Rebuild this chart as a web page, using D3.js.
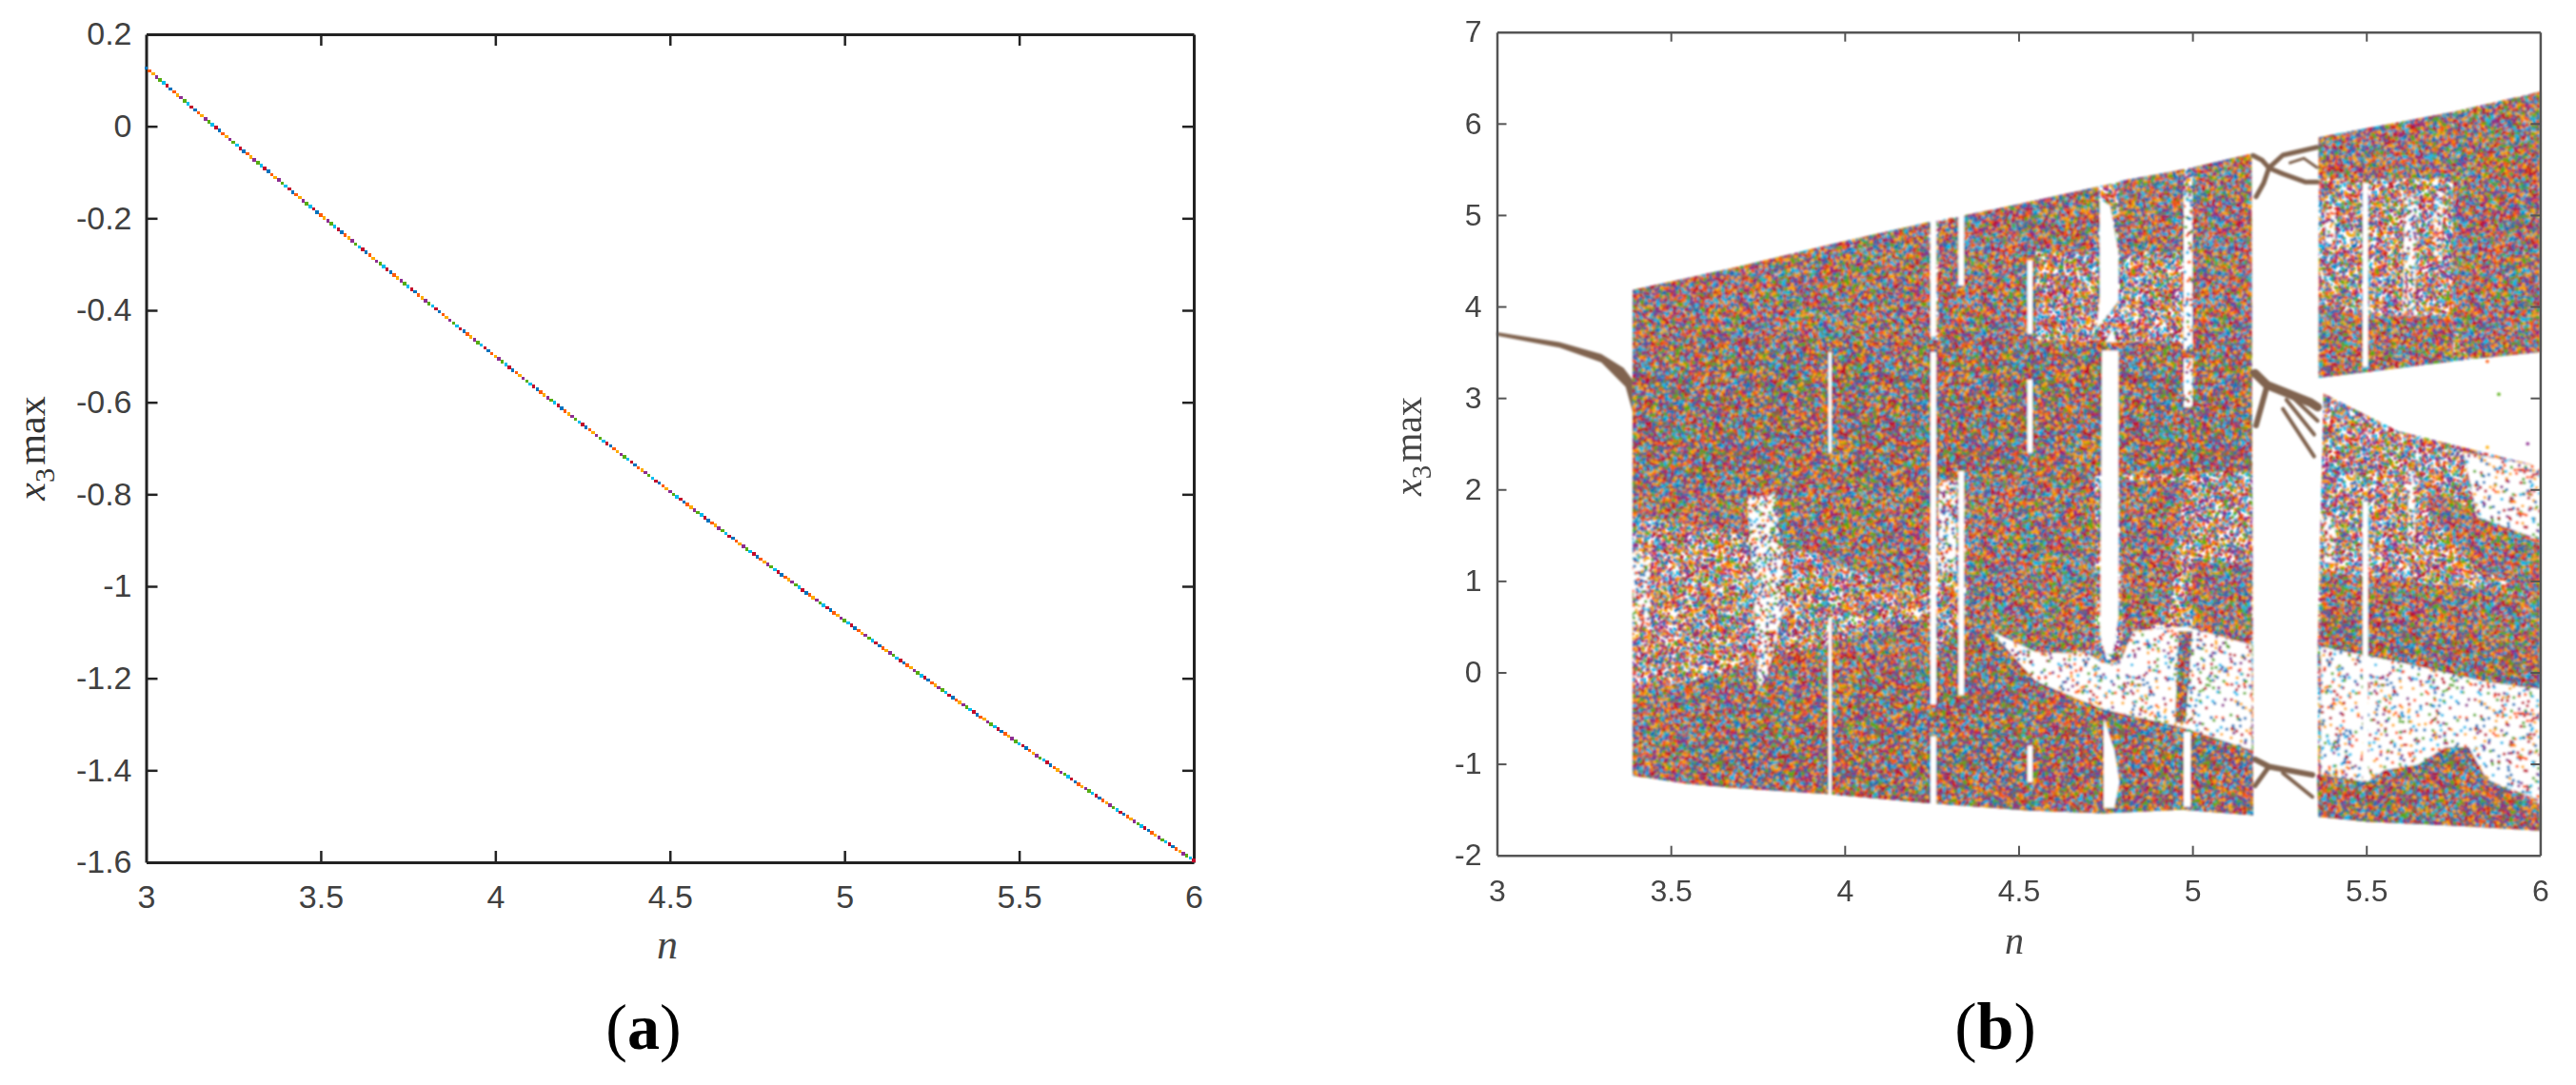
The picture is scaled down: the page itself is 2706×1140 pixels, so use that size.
<!DOCTYPE html>
<html>
<head>
<meta charset="utf-8">
<script src="https://cdn.jsdelivr.net/npm/d3@7/dist/d3.min.js"></script>
<style>
  html, body { margin: 0; padding: 0; background: #fff; }
  svg { display: block; }
</style>
</head>
<body>
<div id="chart"></div>
<script>
'use strict';

// ---- panel (a): one x3max value per n step ----
var nStartA = 3, nStepA = 0.01;
var x3maxA = [
  0.127,0.120,0.114,0.107,0.101,0.094,0.088,0.081,0.075,0.068,
  0.062,0.055,0.049,0.042,0.036,0.029,0.023,0.016,0.010,0.003,
  -0.003,-0.009,-0.016,-0.022,-0.029,-0.035,-0.041,-0.048,-0.054,-0.060,
  -0.067,-0.073,-0.079,-0.086,-0.092,-0.098,-0.105,-0.111,-0.117,-0.124,
  -0.130,-0.136,-0.143,-0.149,-0.155,-0.162,-0.168,-0.174,-0.180,-0.187,
  -0.193,-0.199,-0.205,-0.212,-0.218,-0.224,-0.230,-0.237,-0.243,-0.249,
  -0.256,-0.262,-0.268,-0.274,-0.280,-0.287,-0.293,-0.299,-0.305,-0.311,
  -0.317,-0.323,-0.330,-0.336,-0.342,-0.348,-0.354,-0.360,-0.367,-0.373,
  -0.379,-0.385,-0.391,-0.397,-0.403,-0.409,-0.415,-0.422,-0.428,-0.434,
  -0.440,-0.446,-0.452,-0.458,-0.464,-0.470,-0.476,-0.482,-0.488,-0.494,
  -0.500,-0.506,-0.512,-0.518,-0.524,-0.530,-0.536,-0.542,-0.548,-0.554,
  -0.560,-0.566,-0.572,-0.578,-0.584,-0.590,-0.595,-0.601,-0.607,-0.613,
  -0.619,-0.625,-0.631,-0.637,-0.643,-0.648,-0.654,-0.660,-0.666,-0.672,
  -0.678,-0.684,-0.690,-0.695,-0.701,-0.707,-0.713,-0.719,-0.724,-0.730,
  -0.736,-0.742,-0.748,-0.753,-0.759,-0.765,-0.771,-0.776,-0.782,-0.788,
  -0.794,-0.800,-0.805,-0.811,-0.817,-0.822,-0.828,-0.834,-0.840,-0.845,
  -0.851,-0.857,-0.862,-0.868,-0.874,-0.879,-0.885,-0.891,-0.896,-0.902,
  -0.908,-0.913,-0.919,-0.924,-0.930,-0.936,-0.941,-0.947,-0.952,-0.958,
  -0.964,-0.969,-0.975,-0.980,-0.986,-0.991,-0.997,-1.002,-1.008,-1.014,
  -1.019,-1.025,-1.030,-1.036,-1.041,-1.047,-1.052,-1.058,-1.063,-1.069,
  -1.074,-1.080,-1.085,-1.091,-1.096,-1.102,-1.107,-1.113,-1.118,-1.123,
  -1.129,-1.134,-1.140,-1.145,-1.150,-1.156,-1.161,-1.167,-1.172,-1.177,
  -1.183,-1.188,-1.194,-1.199,-1.204,-1.210,-1.215,-1.220,-1.226,-1.231,
  -1.237,-1.242,-1.247,-1.252,-1.258,-1.263,-1.268,-1.273,-1.279,-1.284,
  -1.289,-1.295,-1.300,-1.305,-1.310,-1.316,-1.321,-1.326,-1.331,-1.337,
  -1.342,-1.347,-1.352,-1.357,-1.363,-1.368,-1.373,-1.378,-1.383,-1.389,
  -1.394,-1.399,-1.404,-1.409,-1.414,-1.419,-1.425,-1.430,-1.435,-1.440,
  -1.445,-1.450,-1.455,-1.460,-1.465,-1.471,-1.476,-1.481,-1.486,-1.491,
  -1.496,-1.501,-1.506,-1.511,-1.516,-1.521,-1.526,-1.531,-1.536,-1.541,
  -1.546,-1.551,-1.556,-1.561,-1.566,-1.571,-1.576,-1.581,-1.586,-1.591,
  -1.596
];
var dotColors = ['#0072bd', '#ff5a0a', '#ffab00', '#8d2d91', '#55ad12', '#00bdee', '#c20a2a'];

var xTicks  = [3, 3.5, 4, 4.5, 5, 5.5, 6];
var yTicksA = [0.2, 0, -0.2, -0.4, -0.6, -0.8, -1, -1.2, -1.4, -1.6];
var yTicksB = [7, 6, 5, 4, 3, 2, 1, 0, -1, -2];

// ---- panel (b): outline of the point cloud, as [n, x3max] ----
// The individual points can not be read, so these regions are filled with a speckle
// texture (see makeSpeckle), the texture is a fill style and carries no values.
var tailRegion = [[3.0,3.72],[3.18,3.61],[3.3,3.48],[3.364,3.33],[3.39,3.2],[3.39,2.85],[3.37,3.12],[3.3,3.39],[3.18,3.55],[3.0,3.68]];

var mediumRegions = [
  [[3.39,4.18],[3.7,4.44],[3.96,4.68],[4.24,4.92],[4.5,5.12],[4.75,5.33],[5.0,5.52],[5.17,5.67],[5.175,-1.56],[4.97,-1.5],[4.745,-1.54],[4.525,-1.51],[4.244,-1.43],[3.95,-1.33],[3.67,-1.26],[3.39,-1.13]],
  [[5.363,5.85],[5.74,6.12],[6,6.35],[6,3.5],[5.7,3.38],[5.363,3.22]],
  [[5.377,3.05],[5.59,2.64],[6,2.25],[6,-1.73],[5.78,-1.68],[5.5,-1.63],[5.363,-1.58],[5.36,0.3]]
];
var thickRegions = [
  [[3.39,4.18],[3.7,4.44],[3.96,4.68],[4.24,4.92],[4.25,3.55],[3.39,3.55]],
  [[4.27,4.93],[4.5,5.12],[4.73,5.31],[4.73,4.6],[4.55,4.6],[4.55,3.55],[4.27,3.55]],
  [[4.79,5.37],[4.975,5.5],[4.975,4.6],[4.79,4.6]],
  [[5.0,5.52],[5.17,5.67],[5.17,3.55],[5.0,3.55]],
  [[3.39,2.1],[4.3,2.2],[4.3,1.5],[3.9,1.3],[3.6,1.6],[3.39,1.7]],
  [[3.9,1.6],[4.24,1.6],[4.24,0.9],[3.95,1.2]],
  [[4.35,2.2],[4.72,2.2],[4.72,1.6],[4.35,1.0]],
  [[4.35,1.0],[4.55,1.6],[4.72,1.6],[4.72,0.25],[4.55,0.2],[4.35,0.6]],
  [[4.79,2.1],[4.98,2.1],[4.93,0.6],[4.85,0.45],[4.8,0.1]],
  [[5.0,1.2],[5.17,1.2],[5.17,0.3],[5.0,0.45]],
  [[3.39,-0.2],[3.55,-0.1],[3.8,0.15],[4.0,0.35],[4.24,0.6],[4.24,0.1],[4.0,-0.1],[3.8,-0.25],[3.55,-0.5],[3.39,-0.5]],
  [[3.39,-0.5],[3.55,-0.5],[3.55,-1.22],[3.39,-1.13]],
  [[5.363,5.85],[5.74,6.12],[5.75,5.4],[5.363,5.4]],
  [[5.75,6.09],[6,6.35],[6,3.5],[5.8,3.43],[5.75,3.8]],
  [[5.363,4.0],[5.5,3.9],[5.75,3.9],[5.75,3.4],[5.363,3.22]],
  [[5.65,1.9],[5.72,1.95],[6,1.39],[6,0.79],[5.8,1.2]],
  [[5.37,1.1],[5.6,1.0],[5.85,0.9],[6,0.79],[6,0.2],[5.85,0.4],[5.55,0.55],[5.37,0.6]]
];
var denseRegions = [
  [[3.39,3.65],[4.0,3.65],[5.17,3.58],[5.17,2.2],[4.3,2.1],[3.39,2.0]]
];
var lightRegions = [
  [[3.72,1.9],[3.8,1.95],[3.83,0.8],[3.78,0],[3.75,-0.2],[3.74,0.8]],
  [[3.39,1.3],[3.44,1.2],[3.44,0.5],[3.39,0.5]],
  [[4.27,2.1],[4.32,2.1],[4.32,1.1],[4.27,1.1]],
  [[5.61,5.2],[5.645,5.2],[5.64,3.9],[5.605,3.9]],
  [[5.695,5.25],[5.72,5.25],[5.715,4.5],[5.695,4.5]],
  [[5.383,5.06],[5.41,5.06],[5.41,4.65],[5.383,4.65]],
  [[5.38,1.7],[5.41,1.7],[5.41,1.2],[5.38,1.2]],
  [[5.62,2.2],[5.64,2.2],[5.64,1.4],[5.62,1.4]]
];
var sparseRegions = [
  [[4.42,0.45],[4.55,0.22],[4.7,0.2],[4.74,0.1],[4.79,0.08],[4.83,0.45],[4.98,0.5],[5.17,0.3],[5.17,-0.85],[4.97,-0.6],[4.74,-0.4],[4.55,-0.1],[4.42,0.28]],
  [[5.37,0.28],[5.6,0.11],[5.84,-0.1],[6,-0.18],[6,-1.4],[5.84,-1.16],[5.795,-0.82],[5.727,-0.82],[5.649,-1.01],[5.552,-1.07],[5.503,-1.2],[5.37,-1.12]],
  [[5.78,2.4],[6,2.25],[6,1.45],[5.82,1.7]],
  [[4.975,5.25],[5.0,5.25],[5.0,3.53],[4.975,3.53]],
  [[4.975,3.43],[5.0,3.43],[5.0,2.9],[4.975,2.9]]
];
var lowerDenseRegions = [
  [[3.55,-0.5],[3.8,-0.25],[4.0,-0.1],[4.24,0.1],[4.35,0.6],[4.42,0.45],[4.55,-0.1],[4.74,-0.4],[4.97,-0.6],[5.17,-0.85],[5.175,-1.56],[4.97,-1.5],[4.745,-1.54],[4.525,-1.51],[4.244,-1.43],[3.95,-1.33],[3.67,-1.26],[3.55,-1.22]],
  [[4.96,0.45],[5.0,0.45],[4.98,-0.55],[4.95,-0.55]],
  [[5.358,-1.12],[5.503,-1.2],[5.552,-1.07],[5.649,-1.01],[5.727,-0.82],[5.795,-0.82],[5.843,-1.16],[6,-1.46],[6,-1.73],[5.78,-1.68],[5.5,-1.63],[5.363,-1.58]],
  [[5.37,0.6],[5.55,0.55],[5.85,0.4],[6,0.2],[6,-0.18],[5.84,-0.1],[5.6,0.11],[5.37,0.28]]
];
var whiteSlots = [
  [[4.247,4.95],[4.263,4.95],[4.263,3.67],[4.247,3.67]],
  [[4.247,3.5],[4.263,3.5],[4.263,-0.35],[4.247,-0.35]],
  [[4.247,-0.7],[4.263,-0.7],[4.263,-1.46],[4.247,-1.46]],
  [[4.327,5.0],[4.343,5.0],[4.343,4.23],[4.327,4.23]],
  [[4.327,2.2],[4.343,2.2],[4.343,-0.25],[4.327,-0.25]],
  [[3.953,3.5],[3.962,3.5],[3.962,2.4],[3.953,2.4]],
  [[3.953,0.6],[3.962,0.6],[3.962,-1.34],[3.953,-1.34]],
  [[4.525,4.5],[4.54,4.5],[4.54,3.7],[4.525,3.7]],
  [[4.525,3.2],[4.54,3.2],[4.54,2.4],[4.525,2.4]],
  [[4.525,-0.8],[4.54,-0.8],[4.54,-1.2],[4.525,-1.2]],
  [[4.734,5.17],[4.763,5.10],[4.787,4.58],[4.787,4.06],[4.725,3.76],[4.734,4.1]],
  [[4.75,3.61],[4.78,3.61],[4.77,3.75]],
  [[4.74,3.52],[4.787,3.52],[4.787,0.6],[4.77,0.2],[4.75,0.2],[4.735,0.4]],
  [[4.745,-0.5],[4.775,-0.85],[4.79,-1.2],[4.775,-1.48],[4.745,-1.48]],
  [[4.975,-0.65],[4.995,-0.65],[4.995,-1.47],[4.975,-1.47]],
  [[5.49,5.35],[5.505,5.35],[5.505,3.34],[5.49,3.34]],
  [[5.49,1.87],[5.505,1.87],[5.505,-1.18],[5.49,-1.18]]
];
// thin period-doubling branches in the window around n = 5.2
var branchWidths = [5, 5, 5, 3, 9, 6, 4, 4, 4, 6, 4, 5];
var branches = [
  [[5.175,5.65],[5.2,5.6],[5.22,5.515],[5.26,5.655],[5.358,5.74]],
  [[5.22,5.515],[5.26,5.45],[5.326,5.36],[5.358,5.36]],
  [[5.183,5.2],[5.205,5.35],[5.22,5.515]],
  [[5.28,5.57],[5.32,5.62],[5.358,5.52]],
  [[5.18,3.27],[5.215,3.14],[5.34,2.95],[5.36,2.9]],
  [[5.183,2.7],[5.215,3.14]],
  [[5.26,2.88],[5.35,2.36]],
  [[5.27,2.98],[5.35,2.6]],
  [[5.29,3.0],[5.36,2.75]],
  [[5.18,-0.95],[5.22,-1.03],[5.345,-1.12]],
  [[5.26,-1.1],[5.345,-1.36]],
  [[5.18,-1.24],[5.22,-1.03]]
];
var strayPoints = [[5.881,3.04],[5.964,2.5],[5.848,3.4],[5.848,2.46],[5.62,2.5],[5.72,2.45],[5.79,2.3]];
var strayColors = ['#55ad12', '#8d2d91', '#ff5a0a', '#ffab00', '#ff5a0a', '#c20a2a', '#00bdee'];

var width = 2706, height = 1140;

var svg = d3.select('#chart').append('svg')
  .attr('width', width)
  .attr('height', height)
  .attr('viewBox', '0 0 ' + width + ' ' + height);

var defs = svg.append('defs');

function makeBlur(id, amount) {
  defs.append('filter')
    .attr('id', id)
    .attr('filterUnits', 'userSpaceOnUse')
    .attr('x', 1400).attr('y', 0).attr('width', 1306).attr('height', 1140)
    .append('feGaussianBlur')
    .attr('stdDeviation', amount);
}
makeBlur('soft-cloud', 0.8);
makeBlur('soft-frame', 0.6);

// Speckle tile: a fill style only. Dots are scattered with a fixed hash so the page is repeatable.
function makeSpeckle(id, count, salt) {
  var size = 256, r = 1.7;
  var canvas = document.createElement('canvas');
  canvas.width = size; canvas.height = size;
  var ctx = canvas.getContext('2d');
  function frac(v) { return v - Math.floor(v); }
  function dot(x, y) {
    ctx.beginPath();
    ctx.arc(x, y, r, 0, 2 * Math.PI);
    ctx.fill();
  }
  for (var i = 0; i < count; i++) {
    var x = frac(Math.sin((i + salt) * 12.9898) * 43758.5453) * size;
    var y = frac(Math.sin((i + salt) * 78.233) * 24634.6345) * size;
    var c = Math.floor(frac(Math.sin((i + salt) * 39.346) * 11895.1) * dotColors.length);
    ctx.fillStyle = dotColors[c];
    dot(x, y);
    if (x < 2) dot(x + size, y);
    if (y < 2) dot(x, y + size);
    if (x > size - 2) dot(x - size, y);
    if (y > size - 2) dot(x, y - size);
  }
  defs.append('pattern')
    .attr('id', id)
    .attr('patternUnits', 'userSpaceOnUse')
    .attr('width', size)
    .attr('height', size)
    .append('image')
    .attr('href', canvas.toDataURL())
    .attr('width', size)
    .attr('height', size);
}
makeSpeckle('speckle-sparse', 2000, 11);
makeSpeckle('speckle-light', 5000, 3001);
makeSpeckle('speckle-medium', 12500, 5003);
makeSpeckle('speckle-thick', 14000, 20011);
makeSpeckle('speckle-dense', 14000, 40009);

function drawFrame(g, x, y, yTicks, opt) {
  var xBottom = y.range()[0], yTop = y.range()[1], xLeft = x.range()[0], xRight = x.range()[1];

  var bottom = g.append('g').attr('transform', 'translate(0,' + xBottom + ')')
    .call(d3.axisBottom(x).tickValues(xTicks).tickSizeInner(-opt.tick).tickSizeOuter(0).tickPadding(opt.padX).tickFormat(String));
  var top = g.append('g').attr('transform', 'translate(0,' + yTop + ')')
    .call(d3.axisTop(x).tickValues(xTicks.slice(1, -1)).tickSizeInner(-opt.tick).tickSizeOuter(0).tickFormat(''));
  var left = g.append('g').attr('transform', 'translate(' + xLeft + ',0)')
    .call(d3.axisLeft(y).tickValues(yTicks).tickSizeInner(-opt.tick).tickSizeOuter(0).tickPadding(opt.padY).tickFormat(String));
  var right = g.append('g').attr('transform', 'translate(' + xRight + ',0)')
    .call(d3.axisRight(y).tickValues(yTicks.slice(1, -1)).tickSizeInner(-opt.tick).tickSizeOuter(0).tickFormat(''));

  [bottom, top, left, right].forEach(function(a) {
    a.select('.domain').attr('stroke', opt.color).attr('stroke-width', opt.axisWidth);
    a.selectAll('.tick line').attr('stroke', opt.color).attr('stroke-width', opt.tickWidth);
    a.selectAll('.tick text')
      .attr('fill', opt.textColor)
      .style('font-family', '"Liberation Sans", Arial, sans-serif')
      .style('font-size', opt.fontSize + 'px');
  });
  // the x ticks at both ends of the axis fall on the frame
  bottom.selectAll('.tick line').filter(function(d) { return d === 3 || d === 6; }).remove();
  left.selectAll('.tick line').filter(function(d, i) { return i === 0 || i === yTicks.length - 1; }).remove();
}

function drawYLabel(g, x0, y0, size, color) {
  var t = g.append('text')
    .attr('transform', 'translate(' + x0 + ',' + y0 + ') rotate(-90)')
    .attr('text-anchor', 'middle')
    .attr('fill', color)
    .style('font-family', '"Liberation Serif", "Times New Roman", serif')
    .style('font-size', size + 'px');
  t.append('tspan').style('font-style', 'italic').text('x');
  t.append('tspan').attr('dy', size * 0.24).style('font-size', (size * 0.72) + 'px').text('3');
  t.append('tspan').attr('dy', -size * 0.24).attr('dx', size * 0.08).text('max');
}

function drawXLabel(g, x0, y0, size, color) {
  g.append('text')
    .attr('x', x0).attr('y', y0)
    .attr('text-anchor', 'middle')
    .attr('fill', color)
    .style('font-family', '"Liberation Serif", "Times New Roman", serif')
    .style('font-style', 'italic')
    .style('font-size', size + 'px')
    .text('n');
}

function drawCaption(x0, y0, size, letter) {
  var t = svg.append('text')
    .attr('x', x0).attr('y', y0)
    .attr('text-anchor', 'middle')
    .attr('fill', '#000')
    .style('font-family', '"Liberation Serif", "Times New Roman", serif')
    .style('font-size', size + 'px');
  t.append('tspan').text('(');
  t.append('tspan').style('font-weight', 'bold').text(letter);
  t.append('tspan').text(')');
}

// panel (a)
var xA = d3.scaleLinear().domain([3, 6]).range([153.5, 1254]);
var yA = d3.scaleLinear().domain([-1.6, 0.2]).range([906, 36]);

var panelA = svg.append('g').attr('class', 'panel-a');

drawFrame(panelA, xA, yA, yTicksA, {
  tick: 12, padX: 24, padY: 15, color: '#222', textColor: '#404040',
  axisWidth: 3, tickWidth: 2.5, fontSize: 34
});

panelA.append('g')
  .selectAll('rect')
  .data(x3maxA)
  .enter().append('rect')
  .attr('x', function(d, i) { return xA(nStartA + i * nStepA) - 1.75; })
  .attr('y', function(d) { return yA(d) - 1.75; })
  .attr('width', 3.5)
  .attr('height', 3.5)
  .attr('shape-rendering', 'crispEdges')
  .attr('fill', function(d, i) { return dotColors[i % dotColors.length]; });

drawYLabel(panelA, 47, 471, 42, '#333');
drawXLabel(panelA, 701, 1007, 44, '#444');
drawCaption(676, 1102, 68, 'a');

// panel (b)
var xB = d3.scaleLinear().domain([3, 6]).range([1572.5, 2668.4]);
var yB = d3.scaleLinear().domain([-2, 7]).range([898.7, 33.7]);

var cloudB = svg.append('g').attr('class', 'panel-b-cloud').attr('filter', 'url(#soft-cloud)');
var frameB = svg.append('g').attr('class', 'panel-b-frame').attr('filter', 'url(#soft-frame)');

var regionLine = d3.line()
  .x(function(d) { return xB(d[0]); })
  .y(function(d) { return yB(d[1]); });

function fillRegions(regions, fill) {
  cloudB.append('g')
    .selectAll('path')
    .data(regions)
    .enter().append('path')
    .attr('d', function(d) { return regionLine(d) + 'Z'; })
    .attr('fill', fill);
}

var cloudBrown = '#80644f';

fillRegions([tailRegion], cloudBrown);
fillRegions(mediumRegions, 'url(#speckle-medium)');
fillRegions(thickRegions, 'rgba(128,100,79,0.4)');
fillRegions(thickRegions, 'url(#speckle-thick)');
fillRegions(denseRegions, cloudBrown);
fillRegions(denseRegions, 'url(#speckle-dense)');
fillRegions(lightRegions, '#fff');
fillRegions(lightRegions, 'url(#speckle-light)');
fillRegions(sparseRegions, '#fff');
fillRegions(sparseRegions, 'url(#speckle-sparse)');
fillRegions(lowerDenseRegions, cloudBrown);
fillRegions(lowerDenseRegions, 'url(#speckle-dense)');
fillRegions(whiteSlots, '#fff');

cloudB.append('g')
  .selectAll('path')
  .data(branches)
  .enter().append('path')
  .attr('d', regionLine)
  .attr('fill', 'none')
  .attr('stroke', cloudBrown)
  .attr('stroke-linecap', 'round')
  .attr('stroke-linejoin', 'round')
  .attr('stroke-width', function(d, i) { return branchWidths[i]; });

cloudB.append('g')
  .selectAll('circle')
  .data(strayPoints)
  .enter().append('circle')
  .attr('cx', function(d) { return xB(d[0]); })
  .attr('cy', function(d) { return yB(d[1]); })
  .attr('r', 1.8)
  .attr('fill', function(d, i) { return strayColors[i]; });

drawFrame(frameB, xB, yB, yTicksB, {
  tick: 10, padX: 26, padY: 16, color: '#555', textColor: '#444',
  axisWidth: 2.5, tickWidth: 2, fontSize: 32
});

drawYLabel(frameB, 1493, 469, 40, '#444');
drawXLabel(frameB, 2116, 1002, 40, '#444');
drawCaption(2096, 1102, 70, 'b');
</script>
</body>
</html>
